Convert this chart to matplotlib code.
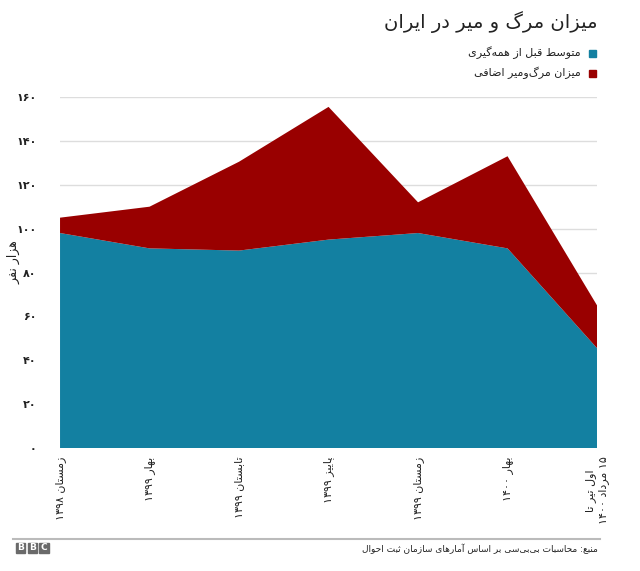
import re
import matplotlib
matplotlib.use('Agg')
import matplotlib.pyplot as plt
from matplotlib.patches import Rectangle

# Arabic/Persian letters -> presentation forms (isolated, final[, initial, medial])
FORMS = {
    'ا': '\uFE8D\uFE8E', 'آ': '\uFE81\uFE82',
    'ب': '\uFE8F\uFE90\uFE91\uFE92', 'پ': '\uFB56\uFB57\uFB58\uFB59',
    'ت': '\uFE95\uFE96\uFE97\uFE98', 'ث': '\uFE99\uFE9A\uFE9B\uFE9C',
    'ح': '\uFEA1\uFEA2\uFEA3\uFEA4', 'د': '\uFEA9\uFEAA',
    'ر': '\uFEAD\uFEAE', 'ز': '\uFEAF\uFEB0',
    'س': '\uFEB1\uFEB2\uFEB3\uFEB4', 'ض': '\uFEBD\uFEBE\uFEBF\uFEC0',
    'ط': '\uFEC1\uFEC2\uFEC3\uFEC4', 'ع': '\uFEC9\uFECA\uFECB\uFECC',
    'ف': '\uFED1\uFED2\uFED3\uFED4', 'ق': '\uFED5\uFED6\uFED7\uFED8',
    'ل': '\uFEDD\uFEDE\uFEDF\uFEE0', 'م': '\uFEE1\uFEE2\uFEE3\uFEE4',
    'ن': '\uFEE5\uFEE6\uFEE7\uFEE8', 'ه': '\uFEE9\uFEEA\uFEEB\uFEEC',
    'و': '\uFEED\uFEEE', 'ی': '\uFBFC\uFBFD\uFBFE\uFBFF',
    'گ': '\uFB92\uFB93\uFB94\uFB95',
}
FA_DIGITS = str.maketrans('0123456789', '۰۱۲۳۴۵۶۷۸۹')


def shape_line(s):
    s = s.replace('ي', 'ی')
    out = []
    for i, c in enumerate(s):
        if c not in FORMS:
            out.append(c)
            continue
        f = FORMS[c]
        prev = s[i - 1] if i > 0 else ''
        nxt = s[i + 1] if i + 1 < len(s) else ''
        join_prev = prev in FORMS and len(FORMS[prev]) == 4
        join_next = len(f) == 4 and nxt in FORMS
        if join_prev and join_next:
            out.append(f[3])
        elif join_prev:
            out.append(f[1])
        elif join_next:
            out.append(f[2])
        else:
            out.append(f[0])
    shaped = ''.join(out).replace('\u200c', '')
    runs = re.findall(r'[0-9\u06F0-\u06F9]+|[^0-9\u06F0-\u06F9]', shaped)
    return ''.join(reversed(runs))


def fa(text):
    return '\n'.join(shape_line(line) for line in text.split('\n'))


# data (thousand people)
periods = ['زمستان ۱۳۹۸', 'بهار ۱۳۹۹', 'تابستان ۱۳۹۹', 'پاییز ۱۳۹۹',
           'زمستان ۱۳۹۹', 'بهار ۱۴۰۰', 'اول تیر تا\n۱۵ مرداد ۱۴۰۰']
baseline = [98, 91, 90, 95, 98, 91, 45.5]
excess = [7, 19, 40.5, 60.5, 14, 42, 19.5]
yticks = [0, 20, 40, 60, 80, 100, 120, 140, 160]

teal = '#1380a1'
red = '#990000'
plt.rcParams['font.family'] = ['DejaVu Sans']

fig = plt.figure(figsize=(6.4, 5.71), dpi=100)
ax = fig.add_axes([0.0938, 0.2154, 0.8391, 0.6147])

x = list(range(len(periods)))
ax.stackplot(x, baseline, excess, colors=[teal, red], linewidth=0)

ax.set_xlim(0, len(periods) - 1)
ax.set_ylim(0, 160)
ax.set_yticks(yticks)
ax.set_yticklabels([str(v).translate(FA_DIGITS) for v in yticks],
                   fontsize=8, fontweight='bold', color='#222222')
ax.set_xticks(x)
ax.set_xticklabels([fa(p) for p in periods], rotation=90, va='top', ha='center',
                   fontsize=8, color='#222222', multialignment='center')
ax.tick_params(axis='y', length=0, pad=17)
ax.tick_params(axis='x', length=0, pad=6)
ax.grid(axis='y', color='#dddddd', linewidth=1)
ax.set_axisbelow(True)
for s in ax.spines.values():
    s.set_visible(False)
ax.set_ylabel(fa('هزار نفر'), fontsize=9, color='#222222')
ax.yaxis.set_label_coords(-0.073, 0.53)

# title and legend
fig.text(0.934, 0.962, fa('میزان مرگ و میر در ایران'), ha='right', va='center',
         fontsize=14, color='#222222')
legend_items = [('متوسط قبل از همه\u200cگیری', teal), ('میزان مرگ\u200cومیر اضافی', red)]
for i, (label, col) in enumerate(legend_items):
    yy = 1 - (53 + 20 * i) / 571
    fig.patches.append(Rectangle((589 / 640, yy - 3.5 / 571), 7 / 640, 7 / 571,
                                 transform=fig.transFigure, color=col))
    fig.text(581 / 640, yy, fa(label), ha='right', va='center', fontsize=8,
             color='#222222')

# footer
fig.add_artist(plt.Line2D([13 / 640, 600 / 640], [1 - 539 / 571, 1 - 539 / 571],
                          transform=fig.transFigure, color='#bbbbbb', linewidth=1.5))
for i, letter in enumerate('BBC'):
    x0 = (16 + i * 11.5) / 640
    fig.patches.append(Rectangle((x0, 1 - 553 / 571), 9.5 / 640, 10 / 571,
                                 transform=fig.transFigure, color='#6a6a6a'))
    fig.text(x0 + 4.75 / 640, 1 - 548 / 571, letter, ha='center', va='center',
             fontsize=6.5, fontweight='bold', color='white')
fig.text(598 / 640, 1 - 549 / 571,
         fa('منبع: محاسبات بی\u200cبی\u200cسی بر اساس آمارهای سازمان ثبت احوال'),
         ha='right', va='center', fontsize=6.5, color='#222222')

fig.savefig('out.png', dpi=100)
